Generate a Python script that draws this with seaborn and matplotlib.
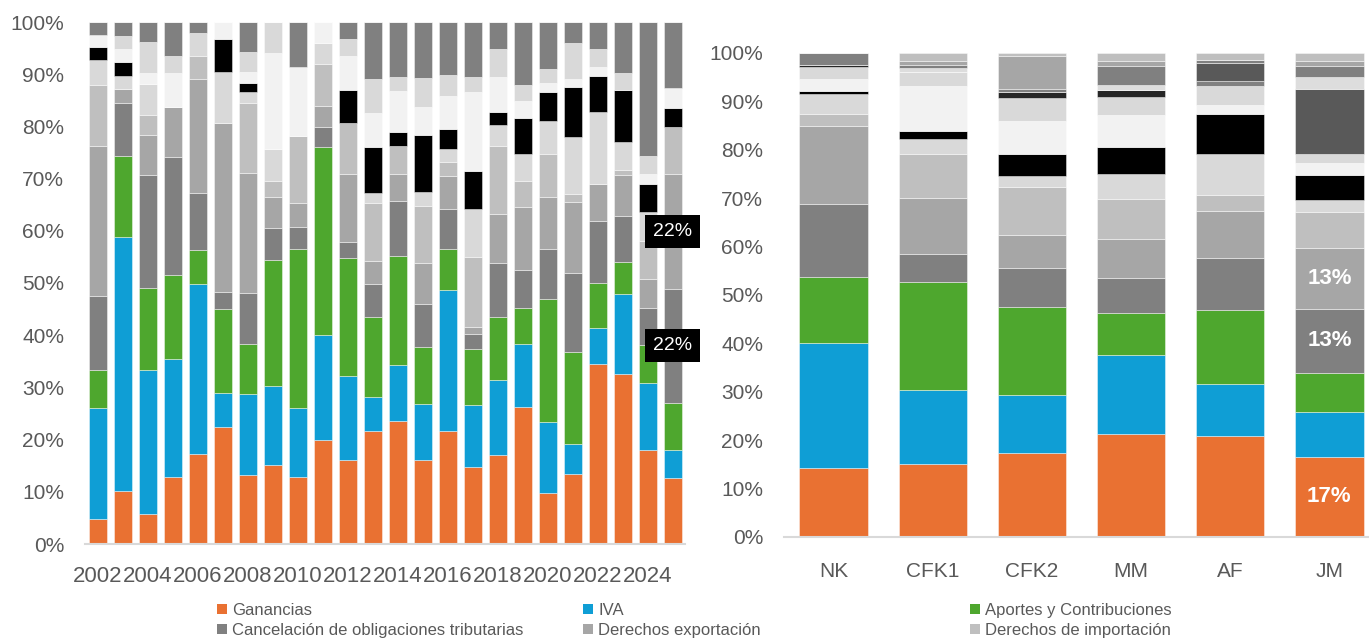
import numpy as np
import pandas as pd
import matplotlib
matplotlib.use("Agg")
import matplotlib.pyplot as plt
from matplotlib.patches import Patch
import seaborn as sns

# categorias
anios = [str(a) for a in range(2002, 2026)]
gobiernos = ["NK", "CFK1", "CFK2", "MM", "AF", "JM"]

conceptos = [
    "Ganancias", "IVA", "Aportes y Contribuciones",
    "Cancelación de obligaciones tributarias", "Derechos exportación",
    "Derechos de importación", "Créditos y Débitos", "Combustibles",
    "Bienes Personales", "Internos", "Ganancia mínima presunta",
    "Monotributo impositivo", "Impuesto PAIS", "Otros coparticipados",
    "Otros impuestos", "Moratorias", "Resto",
]
colores = [
    "#E97132", "#0F9ED5", "#4EA72E", "#808080", "#A6A6A6", "#BFBFBF",
    "#D9D9D9", "#000000", "#F2F2F2", "#D9D9D9", "#262626", "#808080",
    "#595959", "#DDDDDD", "#808080", "#A6A6A6", "#BFBFBF",
]

# participacion anual (%), 2002-2025
ganancias_a = [4.7, 10.2, 5.7, 12.8, 17.3, 22.5, 13.3, 15.1, 12.9, 19.9, 16.0, 21.6,
               23.6, 16.1, 21.6, 14.8, 17.0, 26.2, 9.8, 13.5, 34.4, 32.5, 18.1, 12.6]
iva_a = [21.4, 48.7, 27.6, 22.6, 32.6, 6.4, 15.5, 15.1, 13.1, 20.1, 16.1, 6.5,
         10.6, 10.8, 27.1, 11.9, 14.5, 12.1, 13.5, 5.6, 6.9, 15.3, 12.7, 5.5]
aportes_a = [7.2, 15.4, 15.7, 16.1, 6.5, 16.1, 9.6, 24.3, 30.5, 36.0, 22.6, 15.3,
             21.0, 10.8, 7.8, 10.6, 11.9, 7.0, 23.6, 17.7, 8.7, 6.3, 7.3, 9.0]
cancelacion_a = [14.3, 10.2, 21.6, 22.6, 10.9, 3.3, 9.6, 6.0, 4.3, 3.9, 3.2, 6.5,
                 10.5, 8.2, 7.6, 2.9, 10.5, 7.1, 9.6, 15.1, 11.9, 8.7, 7.2, 21.8]
der_exp_a = [28.6, 2.6, 7.8, 9.6, 21.8, 32.3, 23.1, 6.0, 4.5, 4.1, 13.0, 4.4,
             5.2, 8.0, 6.4, 1.4, 9.3, 12.2, 10.0, 13.7, 7.0, 7.8, 5.5, 22.0]
der_imp_a = [11.8, 0, 3.8, 0, 4.3, 0, 13.4, 3.0, 12.9, 8.0, 9.7, 11.0,
             5.4, 10.9, 2.7, 13.4, 13.1, 4.9, 8.2, 1.4, 0, 1.0, 7.2, 9.0]
creditos_a = [4.8, 2.6, 6.0, 0, 4.4, 9.8, 2.0, 6.2, 0, 3.9, 0, 2.0,
              0, 2.7, 2.5, 9.1, 3.9, 5.2, 6.3, 11.0, 13.8, 5.5, 5.6, 0]
combustibles_a = [2.5, 2.6, 0, 0, 0, 6.3, 1.9, 0, 0, 0, 6.4, 8.7,
                  2.6, 10.9, 3.8, 7.4, 2.6, 7.0, 5.5, 9.6, 6.9, 9.9, 5.4, 3.7]
bienes_a = [2.3, 2.5, 2.0, 6.5, 0, 3.3, 2.0, 18.3, 13.1, 4.1, 6.5, 6.6,
            7.9, 5.4, 6.4, 15.0, 6.6, 3.2, 1.8, 1.5, 1.7, 0, 1.8, 3.7]
internos_a = [0, 2.6, 5.9, 3.3, 0, 0, 3.8, 6.0, 0, 0, 3.2, 6.5,
              2.7, 5.4, 3.9, 3.0, 5.4, 3.0, 2.7, 6.8, 3.5, 3.2, 3.6, 0]
otros_a = [2.4, 2.6, 3.9, 6.5, 2.2, 0, 5.8, 0, 8.7, 0, 3.3, 10.9,
           10.5, 10.8, 10.2, 10.5, 5.2, 12.1, 9.0, 4.1, 5.2, 9.8, 25.6, 12.7]
cero_a = [0] * len(anios)

# participacion promedio por gobierno (%)
ganancias_g = [14.2, 15.1, 17.3, 21.3, 20.8, 16.6]
iva_g = [25.9, 15.3, 12.0, 16.3, 10.9, 9.2]
aportes_g = [13.7, 22.2, 18.2, 8.7, 15.2, 8.0]
cancelacion_g = [15.0, 5.9, 8.0, 7.2, 10.7, 13.4]
der_exp_g = [16.2, 11.5, 6.8, 8.1, 9.8, 12.6]
der_imp_g = [2.4, 9.2, 10.1, 8.3, 3.3, 7.3]
creditos_g = [4.2, 3.1, 2.1, 5.1, 8.4, 2.5]
combustibles_g = [0.6, 1.6, 4.6, 5.5, 8.3, 5.2]
bienes_g = [2.5, 9.2, 6.9, 6.7, 1.9, 2.4]
internos_g = [2.4, 2.9, 4.6, 3.7, 3.9, 1.9]
minima_g = [0.5, 0, 1.3, 1.5, 0, 0]
monotributo_g = [0, 0, 0, 0, 1.0, 0]
pais_g = [0, 0, 0, 0, 3.8, 13.4]
copart_g = [0, 0.9, 0, 1.0, 0, 2.5]
otros_g = [2.4, 0.7, 0.7, 4.0, 0.5, 2.4]
moratorias_g = [0, 0.7, 6.7, 1.0, 0, 1.0]
resto_g = [0, 1.7, 0.7, 1.6, 1.5, 1.6]

series_anual = [ganancias_a, iva_a, aportes_a, cancelacion_a, der_exp_a, der_imp_a,
                creditos_a, combustibles_a, bienes_a, internos_a, cero_a, cero_a,
                cero_a, cero_a, otros_a, cero_a, cero_a]
series_gob = [ganancias_g, iva_g, aportes_g, cancelacion_g, der_exp_g, der_imp_g,
              creditos_g, combustibles_g, bienes_g, internos_g, minima_g,
              monotributo_g, pais_g, copart_g, otros_g, moratorias_g, resto_g]

gris = "#595959"

sns.set_style("white")
plt.rcParams["font.family"] = ["Liberation Sans", "DejaVu Sans"]


def apilar(ax, categorias, series, ancho):
    base = np.zeros(len(categorias))
    bases = []
    for valores, color in zip(series, colores):
        valores = np.asarray(valores, dtype=float)
        bases.append(base.copy())
        df = pd.DataFrame({"x": categorias, "y": valores})
        sns.barplot(data=df, x="x", y="y", order=categorias, color=color,
                    saturation=1, width=ancho, bottom=base.copy(), errorbar=None,
                    edgecolor=(1, 1, 1, 0.5), linewidth=0.6, ax=ax)
        base += valores
    return bases


def estilo(ax, pad_x, size_x):
    ax.set_ylim(0, 100)
    ax.set_yticks(range(0, 101, 10))
    ax.set_yticklabels([f"{v}%" for v in range(0, 101, 10)])
    ax.set_xlabel("")
    ax.set_ylabel("")
    for s in ["top", "right", "left"]:
        ax.spines[s].set_visible(False)
    ax.spines["bottom"].set_color("#D9D9D9")
    ax.spines["bottom"].set_linewidth(1.5)
    ax.tick_params(axis="both", length=0, labelsize=15, colors=gris)
    ax.tick_params(axis="y", pad=15)
    ax.tick_params(axis="x", pad=pad_x, labelsize=size_x)


fig = plt.figure(figsize=(13.69, 6.41), dpi=100)

# panel izquierdo: serie anual
ax1 = fig.add_axes([85 / 1369, 1 - 544 / 641, 600 / 1369, 522 / 641])
bases_a = apilar(ax1, anios, series_anual, 0.72)
estilo(ax1, 16, 16)
ax1.set_xticks(range(0, len(anios), 2))
ax1.set_xticklabels(anios[::2])

i = len(anios) - 1
for k in [3, 4]:
    v = series_anual[k][i]
    ax1.text(i, bases_a[k][i] + v / 2, f"{v:.0f}%", color="white", fontsize=14,
             ha="center", va="center",
             bbox=dict(boxstyle="square,pad=0.4", fc="black", ec="none"))

# panel derecho: promedio por gobierno
ax2 = fig.add_axes([784 / 1369, 1 - 537 / 641, 595 / 1369, 484 / 641])
bases_g = apilar(ax2, gobiernos, series_gob, 0.69)
estilo(ax2, 18, 15)

j = len(gobiernos) - 1
for k in [0, 3, 4]:
    v = series_gob[k][j]
    ax2.text(j, bases_g[k][j] + v / 2, f"{v:.0f}%", color="white", fontsize=16,
             fontweight="bold", ha="center", va="center")

# leyenda en tres columnas
col_x = [217 / 1369, 583 / 1369, 970 / 1369]
for c, x0 in enumerate(col_x):
    idx = [c, c + 3]
    handles = [Patch(facecolor=colores[k], edgecolor="none") for k in idx]
    fig.legend(handles, [conceptos[k] for k in idx], loc="upper left",
               bbox_to_anchor=(x0, 1 - 603 / 641), ncol=1, frameon=False,
               fontsize=12, labelcolor=gris, handlelength=0.6, handleheight=0.6,
               handletextpad=0.3, labelspacing=0.3, borderpad=0, borderaxespad=0)

fig.savefig("out.png", dpi=100)
